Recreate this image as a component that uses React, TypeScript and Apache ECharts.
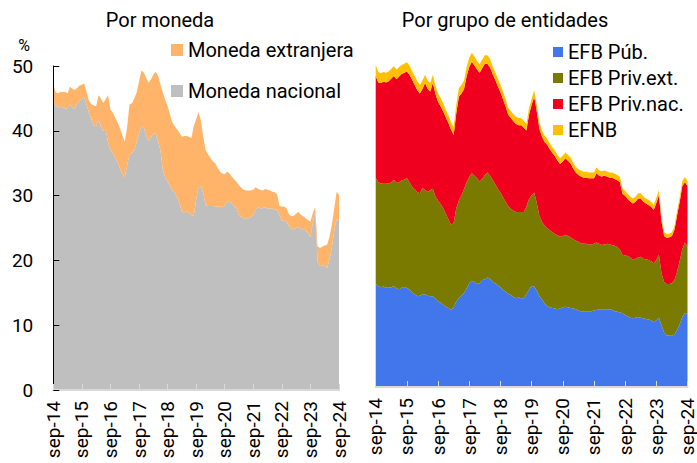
import React, { useEffect, useRef } from "react";
import * as echarts from "echarts";

const MONTHS = ["ene", "feb", "mar", "abr", "may", "jun", "jul", "ago", "sep", "oct", "nov", "dic"];
const categories: string[] = [];
for (let i = 0; i < 121; i++) {
  const k = 8 + i;
  categories.push(`${MONTHS[k % 12]}-${14 + Math.floor(k / 12)}`);
}

// Left panel: level of total and of domestic currency (%)
const totalMoneda = [
  47.2, 45.9, 45.8, 46.0, 46.0, 46.0, 45.8, 46.8, 46.5, 46.3,
  46.6, 47.0, 47.1, 47.3, 46.0, 44.6, 44.1, 43.9, 43.8, 45.5,
  45.0, 44.3, 44.9, 45.5, 43.3, 42.8, 42.0, 41.3, 40.4, 39.3,
  38.3, 40.5, 44.1, 44.2, 45.0, 45.9, 47.6, 49.3, 49.0, 48.2,
  47.4, 47.9, 48.7, 49.1, 48.5, 47.2, 45.9, 44.8, 43.8, 42.5,
  41.3, 40.7, 40.2, 39.7, 39.1, 39.2, 39.2, 39.1, 38.9, 40.7,
  41.8, 42.9, 41.5, 39.0, 37.0, 36.4, 35.8, 35.3, 35.0, 34.3,
  33.7, 33.4, 33.3, 33.7, 33.4, 32.9, 32.5, 32.1, 31.6, 31.2,
  30.9, 30.8, 30.8, 30.8, 30.9, 31.3, 31.0, 30.9, 30.8, 31.0,
  30.9, 30.8, 30.6, 30.5, 30.2, 28.4, 28.3, 28.3, 28.0, 27.1,
  26.8, 26.9, 27.2, 27.5, 27.0, 26.8, 26.5, 26.2, 26.0, 27.3,
  28.2, 22.2, 21.9, 22.1, 22.3, 22.4, 23.6, 25.5, 28.0, 30.6, 30.1,
];
const monedaNacional = [
  44.4, 44.0, 43.6, 43.7, 43.6, 43.4, 43.5, 44.1, 43.6, 43.4,
  44.2, 44.6, 45.0, 45.1, 44.0, 42.8, 41.8, 40.8, 40.7, 41.8,
  40.6, 40.0, 40.2, 38.2, 37.0, 36.6, 35.8, 35.2, 34.2, 33.4,
  32.8, 34.6, 36.4, 36.5, 37.0, 38.2, 39.6, 40.7, 40.5, 39.3,
  38.4, 39.0, 39.6, 39.5, 38.4, 37.0, 34.0, 32.8, 32.2, 31.5,
  30.8, 30.5, 29.6, 28.9, 27.5, 27.4, 27.6, 27.3, 27.0, 26.9,
  29.4, 31.3, 31.4, 30.4, 28.5, 28.4, 28.4, 28.4, 28.3, 28.3,
  28.3, 28.2, 28.5, 29.1, 29.0, 28.8, 28.4, 28.0, 26.9, 26.7,
  26.5, 26.5, 26.5, 26.7, 27.0, 27.8, 28.2, 28.0, 28.1, 28.2,
  28.0, 28.0, 28.0, 27.8, 27.8, 27.0, 26.2, 26.1, 26.0, 25.3,
  24.8, 24.8, 25.0, 25.2, 24.9, 24.8, 24.6, 24.2, 23.6, 25.8,
  27.5, 19.8, 19.1, 19.2, 19.3, 18.8, 20.2, 22.0, 24.6, 26.4, 26.1,
];

// Right panel: cumulative levels (%)
const efbPub = [
  15.9, 15.6, 15.4, 15.5, 15.3, 15.3, 15.4, 15.6, 15.2, 15.1,
  15.3, 15.3, 15.3, 15.0, 14.6, 14.3, 14.0, 14.1, 14.3, 14.3,
  14.1, 14.0, 14.0, 13.6, 13.2, 13.0, 12.7, 12.4, 12.2, 11.9,
  12.3, 13.2, 13.7, 14.1, 14.5, 15.2, 16.0, 16.4, 16.2, 15.9,
  16.0, 16.5, 16.6, 16.9, 16.7, 16.2, 16.0, 15.7, 15.4, 15.0,
  14.7, 14.4, 14.2, 13.9, 13.7, 13.8, 13.7, 13.7, 14.3, 15.0,
  15.6, 15.5, 14.8, 14.0, 13.5, 12.9, 12.5, 12.3, 12.2, 12.1,
  12.0, 12.1, 12.3, 12.4, 12.3, 12.2, 12.1, 12.0, 11.8, 11.7,
  11.7, 11.7, 11.7, 11.7, 11.8, 11.9, 12.0, 12.0, 12.0, 12.0,
  12.0, 11.9, 11.7, 11.6, 11.5, 11.4, 11.1, 10.9, 10.7, 10.6,
  10.7, 10.8, 10.7, 10.6, 10.5, 10.4, 10.3, 10.0, 10.3, 10.7,
  9.5, 8.4, 8.0, 7.9, 7.9, 8.1, 8.8, 9.7, 10.8, 11.4, 11.4,
];
const topPrivExt = [
  32.3, 31.6, 31.4, 31.5, 31.5, 31.4, 31.6, 32.0, 31.5, 31.6,
  31.9, 32.0, 32.2, 31.6, 30.9, 30.5, 30.1, 29.9, 30.7, 30.4,
  30.1, 30.4, 30.6, 29.4, 28.8, 28.2, 27.6, 26.7, 25.9, 25.0,
  25.3, 27.6, 28.8, 29.6, 30.5, 31.6, 32.4, 33.0, 32.6, 32.2,
  31.7, 32.1, 32.7, 33.1, 32.6, 32.0, 31.3, 30.6, 30.0, 29.3,
  28.6, 27.9, 27.5, 27.2, 27.0, 27.0, 27.0, 27.0, 27.8, 29.0,
  29.6, 30.0, 28.4, 26.4, 25.5, 24.9, 24.5, 24.2, 23.9, 23.6,
  23.4, 23.2, 23.3, 23.5, 23.3, 23.1, 22.8, 22.6, 22.4, 22.2,
  22.1, 22.1, 22.0, 22.0, 22.1, 22.3, 22.1, 21.9, 22.0, 22.1,
  22.0, 21.9, 21.8, 21.6, 21.2, 20.4, 20.3, 20.2, 20.0, 19.6,
  19.8, 20.0, 20.1, 19.8, 19.7, 19.6, 19.4, 19.1, 19.6, 20.4,
  17.5, 16.2, 15.9, 15.9, 16.0, 16.5, 17.8, 19.5, 21.2, 22.3, 21.6,
];
const topPrivNac = [
  48.0, 47.0, 46.9, 47.1, 47.0, 47.2, 47.6, 48.0, 47.5, 47.9,
  48.3, 48.5, 48.7, 48.2, 47.4, 46.6, 45.8, 45.3, 46.0, 46.9,
  46.0, 45.6, 46.9, 45.2, 44.0, 43.3, 42.5, 41.6, 40.7, 39.7,
  38.9, 42.2, 44.8, 45.3, 46.0, 48.0, 49.4, 50.2, 49.6, 49.0,
  48.5, 49.2, 49.9, 49.9, 49.3, 48.3, 47.4, 46.4, 45.5, 44.4,
  43.3, 42.0, 41.5, 41.0, 40.6, 40.4, 40.4, 40.0, 39.6, 42.0,
  43.5, 44.8, 42.5, 39.8, 38.6, 37.8, 37.4, 36.7, 36.1, 35.6,
  34.9, 34.4, 34.8, 35.3, 34.9, 34.5, 33.7, 33.1, 32.7, 32.5,
  32.3, 32.3, 32.2, 32.2, 32.2, 33.0, 32.6, 32.5, 32.6, 32.5,
  32.3, 32.3, 32.1, 31.9, 31.6, 29.8, 29.5, 29.0, 28.6, 28.3,
  28.6, 29.1, 29.1, 28.6, 28.3, 28.1, 27.8, 27.3, 28.4, 29.6,
  25.5, 23.3, 23.0, 23.1, 23.3, 24.3, 26.5, 28.6, 31.0, 31.6, 31.0,
];
const efnb = [
  1.7, 1.6, 1.5, 1.5, 1.5, 1.5, 1.5, 1.5, 1.5, 1.5,
  1.4, 1.4, 1.4, 1.4, 1.4, 1.4, 1.4, 1.3, 1.3, 1.3,
  1.3, 1.3, 1.3, 1.3, 1.3, 1.3, 1.3, 1.2, 1.2, 1.2,
  1.2, 1.3, 1.3, 1.3, 1.3, 1.4, 1.4, 1.4, 1.4, 1.3,
  1.3, 1.3, 1.3, 1.3, 1.3, 1.2, 1.2, 1.2, 1.2, 1.2,
  1.1, 1.1, 1.1, 1.1, 1.1, 1.1, 1.1, 1.1, 1.0, 1.0,
  1.0, 1.0, 1.0, 1.0, 1.0, 1.0, 0.9, 0.9, 0.9, 0.9,
  0.9, 0.9, 0.9, 0.9, 0.9, 0.9, 0.9, 0.9, 0.9, 0.9,
  0.9, 0.9, 0.9, 0.9, 0.9, 0.9, 0.8, 0.8, 0.8, 0.8,
  0.8, 0.8, 0.8, 0.8, 0.8, 0.8, 0.8, 0.8, 0.8, 0.8,
  0.8, 0.8, 0.8, 0.8, 0.8, 0.8, 0.8, 0.8, 0.8, 0.8,
  0.7, 0.6, 0.6, 0.6, 0.6, 0.6, 0.7, 0.7, 0.8, 0.8, 0.8,
];

const yTicks = [0, 10, 20, 30, 40, 50];

const r1 = (v: number) => Math.round(v * 10) / 10;
const monedaExtranjera = totalMoneda.map((t, i) => r1(t - monedaNacional[i]));
const efbPrivExt = topPrivExt.map((t, i) => r1(t - efbPub[i]));
const efbPrivNac = topPrivNac.map((t, i) => r1(t - topPrivExt[i]));

const FONT = "Roboto";
const C = {
  gray: "#BFBFBF",
  orange: "#FFB469",
  blue: "#4177EA",
  olive: "#7A7A00",
  red: "#F0001E",
  yellow: "#FFC000",
};

function area(name: string, data: number[], color: string, stack: string, xi: number) {
  return {
    type: "line",
    name,
    data,
    stack,
    xAxisIndex: xi,
    yAxisIndex: xi,
    color,
    showSymbol: false,
    symbol: "none",
    lineStyle: { width: 0, color },
    itemStyle: { color },
    areaStyle: { color, opacity: 1 },
    emphasis: { disabled: true },
  };
}

function xAxisCfg(gi: number) {
  return {
    type: "category",
    gridIndex: gi,
    data: categories,
    boundaryGap: false,
    z: 10,
    axisLine: { show: true, lineStyle: { color: "#D9D9D9", width: 2 } },
    axisTick: { show: true, inside: true, length: 6, interval: 11, lineStyle: { color: "#D9D9D9", width: 1 } },
    axisLabel: { interval: 11, rotate: 90, fontSize: 19, color: "#000", fontFamily: FONT, margin: 11 },
    splitLine: { show: false },
  };
}

export default function App() {
  const ref = useRef<HTMLDivElement>(null);
  useEffect(() => {
    document.body.style.margin = "0";
    document.body.style.overflow = "hidden";
    if (!ref.current) return;
    const chart = echarts.init(ref.current, undefined, { renderer: "svg" });
    const scale = 6.48;
    chart.setOption({
      animation: false,
      backgroundColor: "#fff",
      textStyle: { fontFamily: FONT },
      grid: [
        { left: 53.3, top: 390 - 50 * scale, width: 285.7, height: 50 * scale },
        { left: 375.7, top: 387 - 55 * scale, width: 312.6, height: 55 * scale },
      ],
      xAxis: [xAxisCfg(0), xAxisCfg(1)],
      yAxis: [
        {
          type: "value",
          gridIndex: 0,
          min: yTicks[0],
          max: yTicks[yTicks.length - 1],
          interval: 10,
          z: 10,
          axisLine: { show: true, lineStyle: { color: "#000", width: 1 } },
          axisTick: { show: true, inside: true, length: 6, lineStyle: { color: "#000" } },
          axisLabel: { fontSize: 19, color: "#000", fontFamily: FONT, margin: 20 },
          splitLine: { show: false },
        },
        {
          type: "value",
          gridIndex: 1,
          min: 0,
          max: 55,
          show: false,
          splitLine: { show: false },
        },
      ],
      legend: [
        {
          data: ["Moneda extranjera", "Moneda nacional"],
          orient: "vertical",
          left: 171,
          top: 40,
          padding: 0,
          itemWidth: 12,
          itemHeight: 12,
          itemGap: 21,
          icon: "rect",
          selectedMode: false,
          textStyle: { fontSize: 20, color: "#000", fontFamily: FONT },
        },
        {
          data: ["EFB Púb.", "EFB Priv.ext.", "EFB Priv.nac.", "EFNB"],
          orient: "vertical",
          left: 553,
          top: 42,
          padding: 0,
          itemWidth: 10,
          itemHeight: 10,
          itemGap: 6,
          icon: "rect",
          selectedMode: false,
          textStyle: { fontSize: 20, color: "#000", fontFamily: FONT },
        },
      ],
      graphic: [
        { type: "text", x: 160, y: 20, style: { text: "Por moneda", font: `20px ${FONT}`, fill: "#000", textAlign: "center", textVerticalAlign: "middle" } },
        { type: "text", x: 505, y: 20, style: { text: "Por grupo de entidades", font: `20px ${FONT}`, fill: "#000", textAlign: "center", textVerticalAlign: "middle" } },
        { type: "text", x: 24, y: 45, style: { text: "%", font: `16px ${FONT}`, fill: "#000", textAlign: "center", textVerticalAlign: "middle" } },
      ],
      series: [
        area("Moneda nacional", monedaNacional, C.gray, "m", 0),
        area("Moneda extranjera", monedaExtranjera, C.orange, "m", 0),
        area("EFB Púb.", efbPub, C.blue, "e", 1),
        area("EFB Priv.ext.", efbPrivExt, C.olive, "e", 1),
        area("EFB Priv.nac.", efbPrivNac, C.red, "e", 1),
        area("EFNB", efnb, C.yellow, "e", 1),
      ],
    });
    return () => chart.dispose();
  }, []);
  return <div ref={ref} style={{ width: 697, height: 463, overflow: "hidden" }} />;
}
